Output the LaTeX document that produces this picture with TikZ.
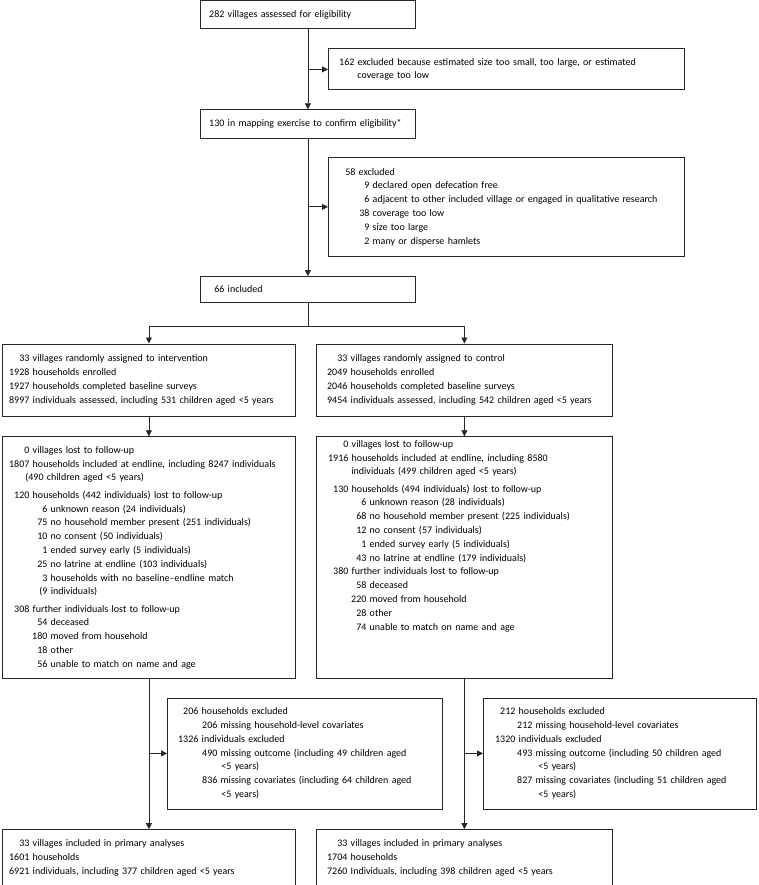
\documentclass[tikz,border=0pt]{standalone}
\usepackage{fontspec}
\setmainfont{Carlito}
\usetikzlibrary{positioning, arrows.meta}

\newlength{\numa}
\newlength{\numb}
\newcommand{\cols}[2]{\setlength{\numa}{#1}\setlength{\numb}{#2}}
\newcommand{\rowa}[2]{\makebox[\numa][r]{#1} #2}
\newcommand{\rowb}[2]{\makebox[\numb][r]{#1} #2}
\newcommand{\rowc}[2]{\leavevmode\null\hspace{#1}#2}
\newcommand{\gap}{\vspace{3.5pt}}

\tikzstyle{box} = [rectangle, draw=black!85, line width=0.8pt, inner xsep=4pt, inner ysep=0pt, align=left, anchor=north west, font=\fontsize{10}{13.8}\selectfont]
\tikzstyle{edge} = [line width=0.8pt, draw=black!85, -{Triangle[length=6pt, width=6pt]}]
\tikzstyle{line} = [line width=0.8pt, draw=black!85]

\begin{document}
\begin{tikzpicture}[x=1pt, y=-1pt]
\useasboundingbox (0,0) rectangle (758,885);

\node (0) [box, text width=207pt, minimum height=28pt] at (200,0.5) {\cols{20pt}{0pt}\rowa{282}{villages assessed for eligibility}};
\node (1) [box, text width=348pt, minimum height=41pt] at (328,48.5) {\cols{22pt}{0pt}\rowa{162}{excluded because estimated size too small, too large, or estimated}\\ \rowc{25pt}{coverage too low}};
\node (2) [box, text width=207pt, minimum height=29pt, below=80pt of 0] {\cols{20pt}{0pt}\rowa{130}{in mapping exercise to confirm eligibility*}};
\node (3) [box, text width=348pt, minimum height=98pt] at (328,157.5) {\cols{23pt}{37pt}\rowa{58}{excluded}\\
\rowb{9}{declared open defecation free}\\
\rowb{6}{adjacent to other included village or engaged in qualitative research}\\
\rowb{38}{coverage too low}\\
\rowb{9}{size too large}\\
\rowb{2}{many or disperse hamlets}};
\node (4) [box, text width=207pt, minimum height=26pt, below=137pt of 2] {\cols{20pt}{0pt}\rowa{66}{included}};

\node (5) [box, text width=285pt, minimum height=72pt] at (2,343.5) {\cols{23pt}{0pt}\rowa{33}{villages randomly assigned to intervention}\\
\rowa{1928}{households enrolled}\\
\rowa{1927}{households completed baseline surveys}\\
\rowa{8997}{individuals assessed, including 531 children aged <5 years}};
\node (7) [box, text width=288pt, minimum height=72pt] at (316,343.5) {\cols{27pt}{0pt}\rowa{33}{villages randomly assigned to control}\\
\rowa{2049}{households enrolled}\\
\rowa{2046}{households completed baseline surveys}\\
\rowa{9454}{individuals assessed, including 542 children aged <5 years}};

\node (6) [box, text width=285pt, minimum height=242pt, below=20pt of 5] {\cols{23pt}{41pt}\rowa{0}{villages lost to follow-up}\\
\rowa{1807}{households included at endline, including 8247 individuals}\\
\rowc{19pt}{(490 children aged <5 years)}\\
\gap\rowa{120}{households (442 individuals) lost to follow-up}\\
\rowb{6}{unknown reason (24 individuals)}\\
\rowb{75}{no household member present (251 individuals)}\\
\rowb{10}{no consent (50 individuals)}\\
\rowb{1}{ended survey early (5 individuals)}\\
\rowb{25}{no latrine at endline (103 individuals)}\\
\rowb{3}{households with no baseline--endline match}\\
\rowc{33pt}{(9 individuals)}\\
\gap\rowa{308}{further individuals lost to follow-up}\\
\rowb{54}{deceased}\\
\rowb{180}{moved from household}\\
\rowb{18}{other}\\
\rowb{56}{unable to match on name and age}};
\node (8) [box, text width=288pt, minimum height=242pt, below=20pt of 7] {\cols{28pt}{46pt}\rowa{0}{villages lost to follow-up}\\
\rowa{1916}{households included at endline, including 8580}\\
\rowc{31pt}{individuals (499 children aged <5 years)}\\
\gap\rowa{130}{households (494 individuals) lost to follow-up}\\
\rowb{6}{unknown reason (28 individuals)}\\
\rowb{68}{no household member present (225 individuals)}\\
\rowb{12}{no consent (57 individuals)}\\
\rowb{1}{ended survey early (5 individuals)}\\
\rowb{43}{no latrine at endline (179 individuals)}\\
\rowa{380}{further individuals lost to follow-up}\\
\rowb{58}{deceased}\\
\rowb{220}{moved from household}\\
\rowb{28}{other}\\
\rowb{74}{unable to match on name and age}\\
\gap\mbox{}\\ \mbox{}\\ \mbox{}};

\node (9) [box, text width=267pt, minimum height=111pt] at (167,697.5) {\cols{27pt}{46pt}\rowa{206}{households excluded}\\
\rowb{206}{missing household-level covariates}\\
\rowa{1326}{individuals excluded}\\
\rowb{490}{missing outcome (including 49 children aged}\\
\rowc{50pt}{<5 years)}\\
\rowb{836}{missing covariates (including 64 children aged}\\
\rowc{50pt}{<5 years)}};
\node (11) [box, text width=265pt, minimum height=111pt] at (483,697.5) {\cols{28pt}{45pt}\rowa{212}{households excluded}\\
\rowb{212}{missing household-level covariates}\\
\rowa{1320}{individuals excluded}\\
\rowb{493}{missing outcome (including 50 children aged}\\
\rowc{51pt}{<5 years)}\\
\rowb{827}{missing covariates (including 51 children aged}\\
\rowc{51pt}{<5 years)}};

\node (10) [box, text width=285pt, minimum height=57pt, below=150pt of 6] {\cols{23pt}{0pt}\rowa{33}{villages included in primary analyses}\\
\rowa{1601}{households}\\
\rowa{6921}{individuals, including 377 children aged <5 years}};
\node (12) [box, text width=288pt, minimum height=57pt, below=150pt of 8] {\cols{27pt}{0pt}\rowa{33}{villages included in primary analyses}\\
\rowa{1704}{households}\\
\rowa{7260}{Individuals, including 398 children aged <5 years}};

\draw [edge] (0) -- (2);
\draw [edge] (0.south |- 1.west) -- (1.west);
\draw [edge] (2) -- (4);
\draw [edge] (2.south |- 3.west) -- (3.west);
\draw [line] (4.south) -- ++(0,23) coordinate (s);
\draw [edge] (s) -| (5);
\draw [edge] (s) -| (7);
\draw [edge] (5) -- (6);
\draw [edge] (7) -- (8);
\draw [edge] (6) -- (10);
\draw [edge] (6.south |- 9.west) -- (9.west);
\draw [edge] (8) -- (12);
\draw [edge] (8.south |- 11.west) -- (11.west);

\end{tikzpicture}
\end{document}
